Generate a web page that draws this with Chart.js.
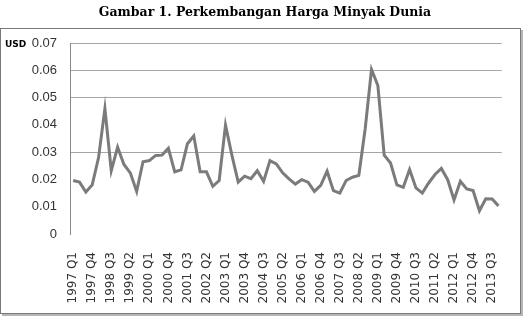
<!DOCTYPE html>
<html>
<head>
<meta charset="utf-8">
<script src="https://cdn.jsdelivr.net/npm/chart.js@4.4.1/dist/chart.umd.min.js"></script>
<style>
    html, body { margin: 0; padding: 0; background: #ffffff; }
    #wrap { width: 523px; height: 316px; position: relative; }
</style>
</head>
<body>
<div id="wrap"><canvas id="oilChart" width="523" height="316"></canvas></div>
<script>
// World oil price, quarterly (USD)
const years = [1997, 1998, 1999, 2000, 2001, 2002, 2003, 2004, 2005, 2006, 2007, 2008, 2009, 2010, 2011, 2012, 2013];
const quarters = ['Q1', 'Q2', 'Q3', 'Q4'];
const oilPrice = [
    0.0196, 0.0190, 0.0154, 0.0180, 0.0280, 0.0460, 0.0232, 0.0318, 0.0255, 0.0224,
    0.0156, 0.0265, 0.0269, 0.0288, 0.0289, 0.0314, 0.0228, 0.0235, 0.0331, 0.0359,
    0.0228, 0.0228, 0.0175, 0.0196, 0.0399, 0.0289, 0.0190, 0.0212, 0.0203, 0.0232,
    0.0193, 0.0269, 0.0257, 0.0224, 0.0202, 0.0183, 0.0199, 0.0190, 0.0156, 0.0178,
    0.0230, 0.0159, 0.0150, 0.0196, 0.0208, 0.0215, 0.0385, 0.0603, 0.0544, 0.0289,
    0.0260, 0.0180, 0.0171, 0.0236, 0.0169, 0.0150, 0.0187, 0.0218, 0.0240, 0.0199,
    0.0125, 0.0193, 0.0165, 0.0159, 0.0085, 0.0129, 0.0128, 0.0103
];
const yTicks = [0, 0.01, 0.02, 0.03, 0.04, 0.05, 0.06, 0.07];
const visibleGrid = [0.03, 0.05, 0.06, 0.07];

const categories = years.flatMap(y => quarters.map(q => `${y} ${q}`));

// frame, title and unit label
const decorPlugin = {
    id: 'decor',
    beforeDraw(chart) {
        const c = chart.ctx;
        c.save();
        c.fillStyle = '#ffffff';
        c.fillRect(0, 0, chart.width, chart.height);
        // shadow on right / bottom
        c.fillStyle = '#b5b5b5';
        c.fillRect(520, 30, 3, 286);
        c.fillRect(2, 313, 521, 3);
        c.strokeStyle = '#7a7a7a';
        c.lineWidth = 1;
        c.strokeRect(0.5, 28.5, 520, 285);
        c.restore();
    },
    afterDraw(chart) {
        const c = chart.ctx;
        c.save();
        c.fillStyle = '#000000';
        c.font = 'bold 12.5px "DejaVu Serif"';
        c.textAlign = 'center';
        c.textBaseline = 'middle';
        c.fillText('Gambar 1. Perkembangan Harga Minyak Dunia', 265, 13);
        c.font = 'bold 9px "DejaVu Sans"';
        c.textAlign = 'left';
        c.fillText('USD', 5, 45);
        c.restore();
    }
};

const ctx = document.getElementById('oilChart');
new Chart(ctx, {
    type: 'line',
    data: {
        labels: categories,
        datasets: [{
            label: 'Harga Minyak',
            data: oilPrice,
            borderColor: '#7b7b7b',
            borderWidth: 3,
            fill: false,
            tension: 0,
            pointRadius: 0
        }]
    },
    options: {
        responsive: false,
        animation: false,
        layout: {
            padding: { top: 43, right: 18, left: 0, bottom: 0 }
        },
        plugins: {
            legend: { display: false },
            tooltip: { enabled: false }
        },
        scales: {
            x: {
                offset: true,
                grid: { display: false },
                border: { display: false },
                afterFit: function(scale) {
                    scale.height = 82;
                },
                ticks: {
                    autoSkip: false,
                    minRotation: 90,
                    maxRotation: 90,
                    padding: 10,
                    color: '#333333',
                    font: { family: 'DejaVu Sans', size: 12 },
                    callback: function(value, index) {
                        return index % 3 === 0 ? categories[index] : '';
                    }
                }
            },
            y: {
                min: 0,
                max: 0.07,
                afterFit: function(scale) {
                    scale.width = 70;
                },
                afterBuildTicks: function(scale) {
                    scale.ticks = yTicks.map(v => ({ value: v }));
                },
                border: { display: true, color: '#8a8a8a', width: 1 },
                grid: {
                    drawTicks: false,
                    lineWidth: 1,
                    color: function(context) {
                        const v = context.tick ? context.tick.value : null;
                        return visibleGrid.some(g => Math.abs(g - v) < 1e-9) ? '#a6a6a6' : 'rgba(0,0,0,0)';
                    }
                },
                ticks: {
                    padding: 13,
                    color: '#333333',
                    font: { family: 'Liberation Sans', size: 13 },
                    callback: function(value) {
                        return value === 0 ? '0' : value.toFixed(2);
                    }
                }
            }
        }
    },
    plugins: [decorPlugin]
});
</script>
</body>
</html>
